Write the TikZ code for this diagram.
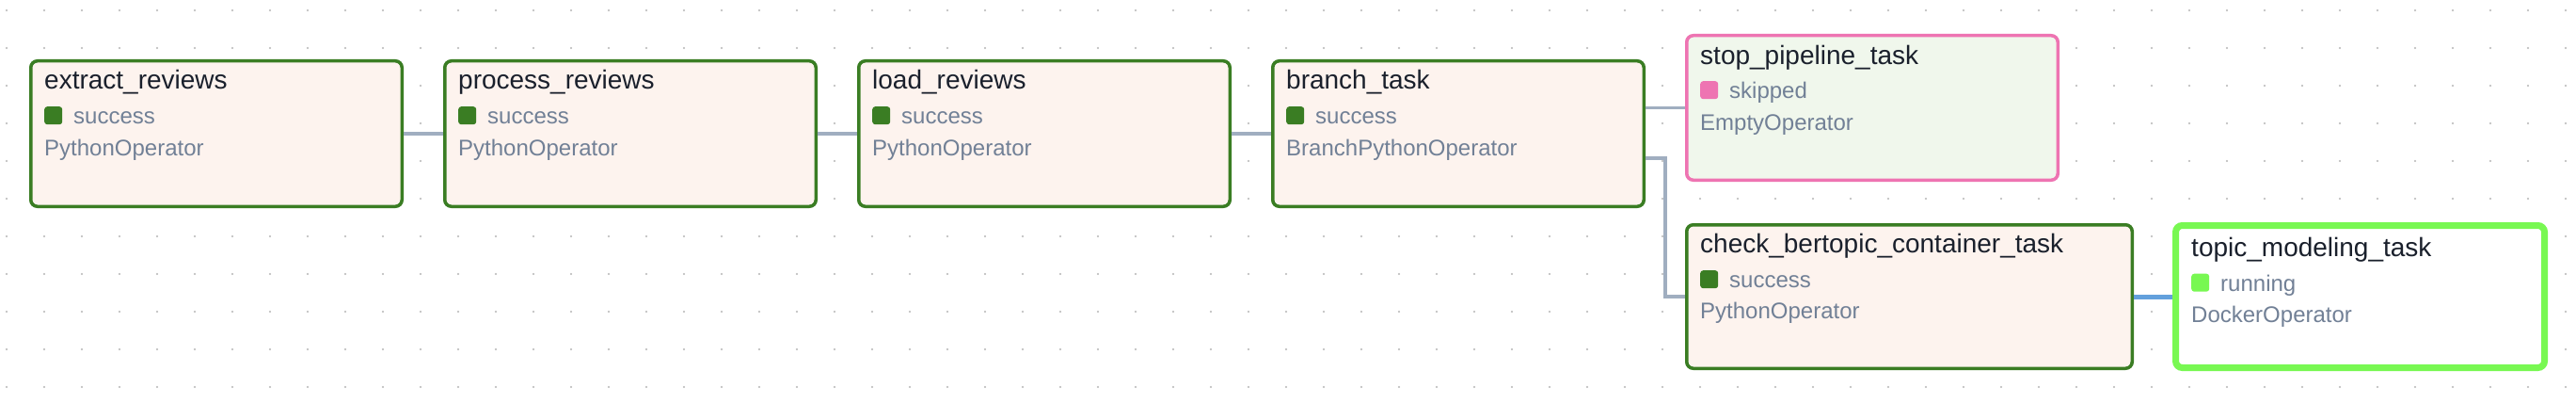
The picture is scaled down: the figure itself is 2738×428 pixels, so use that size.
\documentclass[tikz,border=0pt]{standalone}
\usepackage{fontspec}
\setmainfont{Liberation Sans}
\definecolor{titlec}{HTML}{1A202C}
\definecolor{subc}{HTML}{718096}
\definecolor{edgec}{HTML}{A0AEC0}
\definecolor{blueedge}{HTML}{63A0DC}
\definecolor{dotc}{HTML}{B4B4B4}
\definecolor{succborder}{RGB}{58,125,35}
\definecolor{succfill}{RGB}{253,243,238}
\definecolor{skipborder}{RGB}{238,116,178}
\definecolor{skipfill}{RGB}{240,247,236}
\definecolor{runborder}{RGB}{120,248,82}
\tikzset{
  taskbox/.style={draw, rounded corners=7pt, anchor=north west, inner sep=0pt},
  successbox/.style={taskbox, draw=succborder, fill=succfill, line width=3.5pt},
  skippedbox/.style={taskbox, draw=skipborder, fill=skipfill, line width=3.5pt},
  runningbox/.style={taskbox, draw=runborder, fill=white, line width=7pt},
  tasktitle/.style={anchor=base west, inner sep=0pt, text=titlec, font=\fontsize{28}{34}\selectfont},
  tasksub/.style={anchor=base west, inner sep=0pt, text=subc, font=\fontsize{24}{29}\selectfont},
  statussq/.style={anchor=north west, inner sep=0pt, minimum size=19pt, rounded corners=3pt},
  edge/.style={draw=edgec, line width=3.5pt},
  runedge/.style={draw=blueedge, line width=5pt},
}
\begin{document}
\begin{tikzpicture}[x=1pt, y=-1pt]
\useasboundingbox (0,0) rectangle (2738,428);
\fill[white] (0,0) rectangle (2738,428);
% dot grid
\foreach \i in {0,...,68}{
  \foreach \j in {0,...,10}{
    \fill[dotc] ({7+40*\i},{11+40*\j}) circle (1.1pt);
  }
}
% boxes
\node[successbox, minimum width=394.5pt, minimum height=154.5pt] (extract) at (31,63) {};
\node[successbox, minimum width=394.5pt, minimum height=154.5pt] (process) at (471,63) {};
\node[successbox, minimum width=394.5pt, minimum height=154.5pt] (load) at (911,63) {};
\node[successbox, minimum width=394.5pt, minimum height=154.5pt] (branch) at (1351,63) {};
\node[skippedbox, minimum width=394.5pt, minimum height=153.5pt] (stop) at (1791,36) {};
\node[successbox, minimum width=473.5pt, minimum height=152.5pt] (check) at (1791,237) {};
\node[runningbox, minimum width=392pt, minimum height=151pt] (topic) at (2309,236) {};
% edges
\draw[edge] (extract) -- (process);
\draw[edge] (process) -- (load);
\draw[edge] (load) -- (branch);
\draw[edge] (branch.east |- stop.west) -- (stop.west);
\draw[edge] ([yshift=-26pt]branch.east) -- ++(21,0) |- (check.west);
\draw[runedge] (check) -- (topic);
% contents
\begin{scope}[shift={(31,63)}]
  \node[tasktitle] (extract-t) at (16,32) {extract\_reviews};
  \node[statussq, fill=succborder] (extract-s) at (16,50) {};
  \node[tasksub] (extract-st) at (47,68.5) {success};
  \node[tasksub] (extract-op) at (16,102.5) {PythonOperator};
\end{scope}
\begin{scope}[shift={(471,63)}]
  \node[tasktitle] (process-t) at (16,32) {process\_reviews};
  \node[statussq, fill=succborder] (process-s) at (16,50) {};
  \node[tasksub] (process-st) at (47,68.5) {success};
  \node[tasksub] (process-op) at (16,102.5) {PythonOperator};
\end{scope}
\begin{scope}[shift={(911,63)}]
  \node[tasktitle] (load-t) at (16,32) {load\_reviews};
  \node[statussq, fill=succborder] (load-s) at (16,50) {};
  \node[tasksub] (load-st) at (47,68.5) {success};
  \node[tasksub] (load-op) at (16,102.5) {PythonOperator};
\end{scope}
\begin{scope}[shift={(1351,63)}]
  \node[tasktitle] (branch-t) at (16,32) {branch\_task};
  \node[statussq, fill=succborder] (branch-s) at (16,50) {};
  \node[tasksub] (branch-st) at (47,68.5) {success};
  \node[tasksub] (branch-op) at (16,102.5) {BranchPythonOperator};
\end{scope}
\begin{scope}[shift={(1791,36)}]
  \node[tasktitle] (stop-t) at (16,32) {stop\_pipeline\_task};
  \node[statussq, fill=skipborder] (stop-s) at (16,50) {};
  \node[tasksub] (stop-st) at (47,68.5) {skipped};
  \node[tasksub] (stop-op) at (16,102) {EmptyOperator};
\end{scope}
\begin{scope}[shift={(1791,237)}]
  \node[tasktitle] (check-t) at (16,31.5) {check\_bertopic\_container\_task};
  \node[statussq, fill=succborder] (check-s) at (16,50) {};
  \node[tasksub] (check-st) at (47,68) {success};
  \node[tasksub] (check-op) at (16,101.5) {PythonOperator};
\end{scope}
\begin{scope}[shift={(2313,240)}]
  \node[tasktitle] (topic-t) at (16,32.5) {topic\_modeling\_task};
  \node[statussq, fill=runborder] (topic-s) at (16,50.5) {};
  \node[tasksub] (topic-st) at (47,69.5) {running};
  \node[tasksub] (topic-op) at (16,102.5) {DockerOperator};
\end{scope}
\end{tikzpicture}
\end{document}
